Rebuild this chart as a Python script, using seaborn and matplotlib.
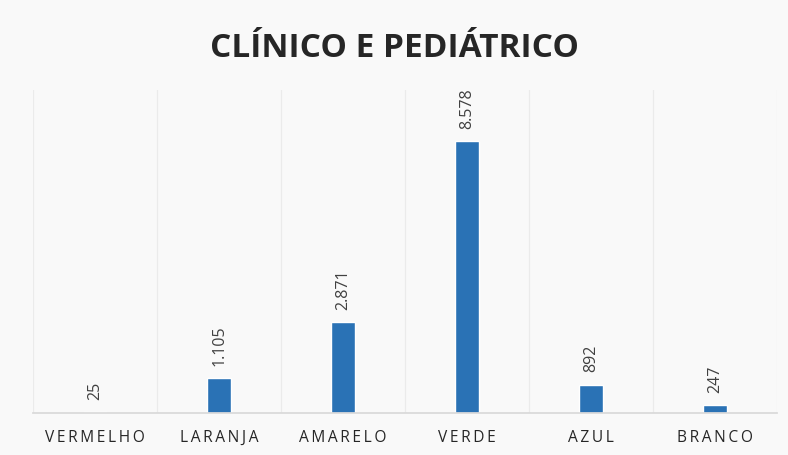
import numpy as np
import pandas as pd
import matplotlib.pyplot as plt
import seaborn as sns

# dados
categorias = ['VERMELHO', 'LARANJA', 'AMARELO', 'VERDE', 'AZUL', 'BRANCO']
atendimentos = [25, 1105, 2871, 8578, 892, 247]

df = pd.DataFrame({'categoria': categorias, 'valor': atendimentos})

sns.set_theme(style='white')
plt.rcParams['font.family'] = ['Open Sans', 'DejaVu Sans']

fig = plt.figure(figsize=(7.88, 4.55), dpi=100, facecolor='#f9f9f9')
ax = fig.add_axes([0.042, 0.092, 0.944, 0.71])
ax.set_facecolor('#f9f9f9')

sns.barplot(data=df, x='categoria', y='valor', color='#2a72b5', width=0.19,
            saturation=1, ax=ax)

ax.set_xlim(-0.5, 5.5)
ax.set_ylim(0, 10200)
ax.set_yticks([])
ax.set_xlabel('')
ax.set_ylabel('')

# grade vertical entre categorias
ax.set_xticks(np.arange(-0.5, 6, 1), minor=True)
ax.grid(True, which='minor', axis='x', color='#ebebeb', lw=0.9)
ax.tick_params(axis='x', which='both', length=0)

# rótulos com espaçamento entre letras
espaco = '\u2009'
ax.set_xticks(range(len(categorias)))
ax.set_xticklabels([espaco.join(c) for c in categorias], fontsize=11.2,
                   color='#262626')
ax.tick_params(axis='x', pad=12)

for s in ['top', 'right', 'left']:
    ax.spines[s].set_visible(False)
ax.spines['bottom'].set_color('#d9d9d9')

# valores sobre as barras
for i, v in enumerate(atendimentos):
    txt = f'{v:,}'.replace(',', '.')
    ax.annotate(txt, (i, v), xytext=(0, 9), textcoords='offset points',
                rotation=90, ha='center', va='bottom', fontsize=11.5,
                color='#404040')

fig.text(0.5, 0.893, 'CLÍNICO E PEDIÁTRICO', ha='center', va='center',
         fontsize=24, fontweight='bold', color='#262626')

fig.savefig('out.png', dpi=100, facecolor=fig.get_facecolor())
